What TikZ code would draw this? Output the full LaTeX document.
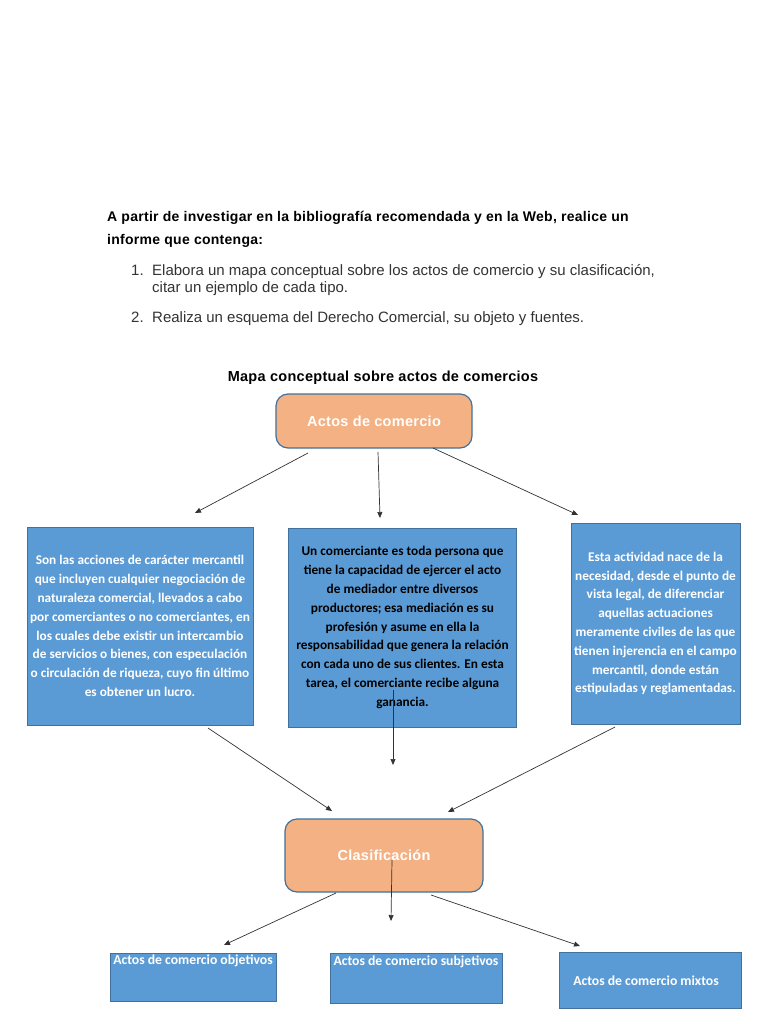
\documentclass[tikz,border=0pt]{standalone}
\usepackage{fontspec}
\setmainfont{Liberation Sans}
\newfontfamily\calfont{Carlito}
\newfontfamily\headfont[LetterSpace=2]{Liberation Sans}
\usetikzlibrary{arrows.meta}
\definecolor{orangefill}{HTML}{F4B183}
\definecolor{bluefill}{HTML}{5B9BD5}
\definecolor{boxborder}{HTML}{41719C}
\definecolor{listgray}{HTML}{333333}
\tikzset{
  headtext/.style={anchor=base west, inner sep=0pt, font=\headfont\bfseries\fontsize{14}{16}\selectfont},
  listtext/.style={anchor=base west, inner sep=0pt, text=listgray, font=\fontsize{15}{17}\selectfont},
  orangebox/.style={draw=boxborder, line width=1.2pt, fill=orangefill, rounded corners=12pt, text=white, font=\headfont\bfseries\fontsize{14.5}{16}\selectfont},
  bluebox/.style={draw=boxborder, line width=1pt, fill=bluefill, align=center, inner sep=0pt, font=\calfont\bfseries\fontsize{13.3}{18.8}\selectfont},
  smalltext/.style={inner sep=0pt, text=white, font=\calfont\bfseries\fontsize{13.7}{15}\selectfont},
  conn/.style={draw=black!80, line width=0.7pt, -{Triangle[length=6pt,width=5pt]}},
}
\begin{document}
\begin{tikzpicture}[x=1pt,y=-1pt]
\useasboundingbox[fill=white] (0,0) rectangle (768,1024);
% header
\node[headtext] (h1) at (107,222) {A partir de investigar en la bibliografía recomendada y en la Web, realice un};
\node[headtext] (h2) at (107,244) {informe que contenga:};
\node[listtext] (n1) at (131,275) {1.};
\node[listtext] (l1a) at (152,275) {Elabora un mapa conceptual sobre los actos de comercio y su clasificación,};
\node[listtext] (l1b) at (152,292) {citar un ejemplo de cada tipo.};
\node[listtext] (n2) at (131,322) {2.};
\node[listtext] (l2) at (152,322) {Realiza un esquema del Derecho Comercial, su objeto y fuentes.};
\node[inner sep=0pt, anchor=base, font=\headfont\bfseries\fontsize{14.5}{16}\selectfont] (title) at (383,381) {Mapa conceptual sobre actos de comercios};
% top box
\node[orangebox, minimum width=196pt, minimum height=54pt] (actos) at (374,421) {Actos de comercio};
% blue boxes
\node[bluebox, text=white, minimum width=226pt, minimum height=198pt] (left) at (140,626)
 {Son las acciones de carácter mercantil\\que incluyen cualquier negociación de\\naturaleza comercial, llevados a cabo\\por comerciantes o no comerciantes, en\\los cuales debe existir un intercambio\\de servicios o bienes, con especulación\\o circulación de riqueza, cuyo fin último\\es obtener un lucro.};
\node[bluebox, text=black, minimum width=228pt, minimum height=199pt] (mid) at (402.5,627.5)
 {Un comerciante es toda persona que\\tiene la capacidad de ejercer el acto\\de mediador entre diversos\\productores; esa mediación es su\\profesión y asume en ella la\\responsabilidad que genera la relación\\con cada uno de sus clientes. En esta\\tarea, el comerciante recibe alguna\\ganancia.};
\node[bluebox, text=white, minimum width=169pt, minimum height=201pt] (right) at (655.5,623.5)
 {Esta actividad nace de la\\necesidad, desde el punto de\\vista legal, de diferenciar\\aquellas actuaciones\\meramente civiles de las que\\tienen injerencia en el campo\\mercantil, donde están\\estipuladas y reglamentadas.};
% clasificacion
\node[orangebox, minimum width=198pt, minimum height=73pt] (clas) at (384,855.5) {Clasificación};
% bottom boxes
\node[bluebox, minimum width=166pt, minimum height=48pt] (bl) at (193,977) {};
\node[bluebox, minimum width=172pt, minimum height=50pt] (bm) at (416,978) {};
\node[bluebox, minimum width=182pt, minimum height=56pt] (br) at (650,980) {};
\node[smalltext, anchor=north] (blt) at (193,955) {Actos de comercio objetivos};
\node[smalltext, anchor=north] (bmt) at (416,956) {Actos de comercio subjetivos};
\node[smalltext] (brt) at (646,981) {Actos de comercio mixtos};
% connector points
\coordinate (a1s) at (308,453); \coordinate (a1e) at (195,513);
\coordinate (a2s) at (378,452); \coordinate (a2e) at (380,518);
\coordinate (a3s) at (433,448); \coordinate (a3e) at (578,515);
\coordinate (b1s) at (208,728); \coordinate (b1e) at (332,811);
\coordinate (b2s) at (393,690); \coordinate (b2e) at (393,765);
\coordinate (b3s) at (615,727); \coordinate (b3e) at (448,812);
\coordinate (c1s) at (336,893); \coordinate (c1e) at (224,945);
\coordinate (c2s) at (392,860); \coordinate (c2e) at (391,921);
\coordinate (c3s) at (431,895); \coordinate (c3e) at (580,946);
\draw[conn] (a1s) -- (a1e);
\draw[conn] (a2s) -- (a2e);
\draw[conn] (a3s) -- (a3e);
\draw[conn] (b1s) -- (b1e);
\draw[conn] (b2s) -- (b2e);
\draw[conn] (b3s) -- (b3e);
\draw[conn] (c1s) -- (c1e);
\draw[conn] (c2s) -- (c2e);
\draw[conn] (c3s) -- (c3e);
\end{tikzpicture}
\end{document}
